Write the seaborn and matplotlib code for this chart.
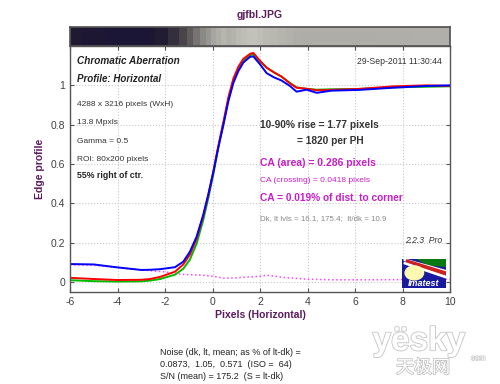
import numpy as np
import pandas as pd
import matplotlib
matplotlib.use('Agg')
import matplotlib.pyplot as plt
import matplotlib.patches as mpatches
import matplotlib.patheffects as pe
from matplotlib.colors import LinearSegmentedColormap
import seaborn as sns

# Edge profile data
pixels = [-6, -5, -4, -3, -2.63, -2.2, -1.58, -1.23, -0.95, -0.67,
          -0.39, -0.18, 0.04, 0.24, 0.46, 0.67, 0.88, 1.09, 1.3, 1.58,
          1.72, 2.0, 2.28, 2.6, 2.9, 3.26, 3.54, 3.96, 4.39, 5,
          6.2, 7.6, 9, 10]
red = [0.022, 0.016, 0.011, 0.012, 0.016, 0.027, 0.053, 0.09, 0.14, 0.22,
       0.335, 0.44, 0.565, 0.69, 0.815, 0.94, 1.035, 1.095, 1.135, 1.16,
       1.165, 1.125, 1.09, 1.065, 1.045, 1.01, 0.988, 0.983, 0.975, 0.977,
       0.982, 0.995, 1.0, 0.997]
green = [0.010, 0.005, 0.003, 0.004, 0.008, 0.016, 0.038, 0.068, 0.115, 0.195,
         0.315, 0.425, 0.55, 0.68, 0.805, 0.93, 1.025, 1.085, 1.128, 1.153,
         1.158, 1.12, 1.09, 1.065, 1.045, 1.013, 0.99, 0.982, 0.978, 0.98,
         0.982, 0.99, 0.993, 0.995]
blue = [0.092, 0.090, 0.075, 0.062, 0.063, 0.066, 0.076, 0.104, 0.155, 0.231,
        0.342, 0.444, 0.563, 0.682, 0.80, 0.92, 1.013, 1.073, 1.116, 1.145,
        1.147, 1.107, 1.062, 1.04, 1.025, 0.997, 0.968, 0.978, 0.962, 0.973,
        0.977, 0.988, 0.997, 1.0]

# CA difference (dotted magenta)
ca_x = [-6, -5, -4, -3, -2, -1.5, -1, -0.5, 0, 0.5, 1, 2, 2.3, 3, 4, 5, 6, 7, 8, 9, 10]
ca_y = [0.088, 0.086, 0.075, 0.062, 0.052, 0.042, 0.038, 0.036, 0.03, 0.02, 0.022, 0.03,
        0.035, 0.024, 0.015, 0.012, 0.012, 0.012, 0.013, 0.014, 0.014]

x_ticks = [-6, -4, -2, 0, 2, 4, 6, 8, 10]
y_ticks = [0, 0.2, 0.4, 0.6, 0.8, 1]
y_labels = ['0', '0.2', '0.4', '0.6', '0.8', '1']

info_lines = ['4288 x 3216 pixels (WxH)', '13.8 Mpxls', 'Gamma = 0.5', 'ROI: 80x200 pixels']
noise_lines = ['Noise (dk, lt, mean; as % of lt-dk) =',
               '0.0873,  1.05,  0.571  (ISO =  64)',
               'S/N (mean) = 175.2  (S = lt-dk)']

sns.set_theme(style='ticks')
plt.rcParams['font.family'] = ['Liberation Sans', 'DejaVu Sans']
plt.rcParams['axes.unicode_minus'] = False

purple = '#5a1a5e'
magenta = '#c81ec8'
dark = '#333333'

df = pd.DataFrame({'x': pixels, 'Red': red, 'Green': green, 'Blue': blue})
df_long = df.melt(id_vars='x', var_name='channel', value_name='y')

fig = plt.figure(figsize=(5, 3.84), dpi=100)
ax = fig.add_axes([0.14, 0.2396, 0.76, 0.6406])

sns.lineplot(x=ca_x, y=ca_y, ax=ax, color='#ff44ff', linestyle=':', linewidth=1.1)
sns.lineplot(data=df_long, x='x', y='y', hue='channel', ax=ax,
             palette={'Red': '#ff0000', 'Green': '#00bb00', 'Blue': '#0000ff'},
             hue_order=['Green', 'Red', 'Blue'], linewidth=1.4, legend=False)

ax.set_xlim(-6, 10)
ax.set_ylim(-0.05, 1.2)
ax.set_xticks(x_ticks)
ax.set_xticklabels([str(t) for t in x_ticks])
ax.set_yticks(y_ticks)
ax.set_yticklabels(y_labels)
ax.grid(True, linestyle=':', color='#c8c8c8', linewidth=0.8)
ax.tick_params(direction='in', top=True, right=True, length=3, labelsize=7.5,
               colors='#555555', labelcolor='#404040', width=0.8)
for s in ax.spines.values():
    s.set_color('#555555')
    s.set_linewidth(1)
ax.set_xlabel('Pixels (Horizontal)', color=purple, fontweight='bold', fontsize=7.5, labelpad=2)
ax.set_ylabel('Edge profile', color=purple, fontweight='bold', fontsize=7.5, labelpad=4)

# texts inside the plot
ax.text(0.018, 0.939, 'Chromatic Aberration', transform=ax.transAxes, fontsize=7.2,
        fontweight='bold', fontstyle='italic', color='#222222', va='center')
ax.text(0.018, 0.866, 'Profile: Horizontal', transform=ax.transAxes, fontsize=7,
        fontweight='bold', fontstyle='italic', color='#222222', va='center')
for i, line in enumerate(info_lines):
    ax.text(0.018, 0.764 - i * 0.0757, line, transform=ax.transAxes, fontsize=6,
            color=dark, va='center')
ax.text(0.018, 0.472, '55% right of ctr.', transform=ax.transAxes, fontsize=6.3,
        fontweight='bold', color='#222222', va='center')
ax.text(0.979, 0.939, '29-Sep-2011 11:30:44', transform=ax.transAxes, fontsize=6.2,
        color=dark, va='center', ha='right')
ax.text(0.5, 0.679, '10-90% rise = 1.77 pixels', transform=ax.transAxes, fontsize=7.3,
        fontweight='bold', color=dark, va='center')
ax.text(0.597, 0.614, '= 1820 per PH', transform=ax.transAxes, fontsize=7.3,
        fontweight='bold', color=dark, va='center')
ax.text(0.5, 0.524, 'CA (area) = 0.286 pixels', transform=ax.transAxes, fontsize=7.5,
        fontweight='bold', color=magenta, va='center')
ax.text(0.5, 0.455, 'CA (crossing) = 0.0418 pixels', transform=ax.transAxes, fontsize=6,
        color=magenta, va='center')
ax.text(0.5, 0.382, 'CA = 0.019% of dist. to corner', transform=ax.transAxes, fontsize=7.3,
        fontweight='bold', color=magenta, va='center')
ax.text(0.5, 0.297, 'Dk, lt lvls = 16.1, 175.4;  lt/dk = 10.9', transform=ax.transAxes,
        fontsize=5.7, color='#888888', va='center')
ax.text(0.979, 0.211, '2.2.3  Pro', transform=ax.transAxes, fontsize=6.2,
        fontstyle='italic', color=dark, va='center', ha='right')

# gradient bar showing the edge (columns coloured by the green profile)
bar = fig.add_axes([0.14, 0.88, 0.76, 0.0495])
vmax = 1.16
nodes = [(0, '#1b1636'), (0.01, '#1f1932'), (0.03, '#302b3a'), (0.07, '#4a4548'),
         (0.12, '#625e5f'), (0.2, '#787475'), (0.32, '#8c8a87'), (0.55, '#a6a5a0'),
         (0.8, '#b6b5ae'), (0.98, '#aeada7'), (1.16, '#c2c1ba')]
cmap = LinearSegmentedColormap.from_list('edge', [(v / vmax, c) for v, c in nodes])
px = np.array(pixels)
edges = np.concatenate([[px[0]], (px[:-1] + px[1:]) / 2, [px[-1]]])
bar.pcolormesh(edges, [0, 1], np.array(green).reshape(1, -1), cmap=cmap,
               vmin=0, vmax=vmax, shading='flat')
bar.set_xlim(-6, 10)
bar.set_ylim(0, 1)
bar.set_xticks([])
bar.set_yticks([])
for s in bar.spines.values():
    s.set_color('#555555')

# Imatest logo
logo = fig.add_axes([0.804, 0.25, 0.088, 0.0755])
logo.set_xlim(0, 1)
logo.set_ylim(0, 1)
logo.axis('off')
logo.add_patch(mpatches.Rectangle((0, 0), 1, 1, color='#1a1a9e'))
logo.add_patch(mpatches.Polygon([[0.35, 1], [1, 1], [1, 0.75], [0.6, 0.8]], color='#0a7a10'))
logo.add_patch(mpatches.Polygon([[0.05, 1], [1, 0.6], [1, 0.5], [0.05, 0.95]], color='white'))
logo.add_patch(mpatches.Polygon([[0.1, 0.97], [1, 0.55], [1, 0.42], [0.1, 0.9]], color='#cc2020'))
logo.add_patch(mpatches.Polygon([[0.05, 0.88], [1, 0.4], [1, 0.35], [0.05, 0.84]], color='white'))
logo.add_patch(mpatches.Ellipse((0.28, 0.52), 0.42, 0.48, color='#fff8b0'))
logo.text(0.5, 0.15, 'Imatest', color='white', fontsize=6.5, fontweight='bold',
          fontstyle='italic', ha='center', va='center')

# noise summary below the chart
for i, line in enumerate(noise_lines):
    fig.text(0.32, 0.081 - i * 0.031, line, fontsize=6.5, color='#222222', va='center')

# title
fig.text(0.52, 0.96, 'gjfbl.JPG', color=purple, fontsize=7.5, fontweight='bold',
         ha='center', va='center')

# watermark
fig.text(0.745, 0.11, 'yësky', fontsize=24, fontweight='bold', color='white',
         va='center', path_effects=[pe.withStroke(linewidth=1.2, foreground='#c4c4c4')])
fig.text(0.942, 0.066, 'com', fontsize=5.5, color='white', va='center',
         path_effects=[pe.withStroke(linewidth=0.8, foreground='#c4c4c4')])
fig.text(0.792, 0.042, '天极网', fontsize=13, color='white',
         family=['Noto Sans CJK SC', 'DejaVu Sans'], va='center',
         path_effects=[pe.withStroke(linewidth=1.2, foreground='#c4c4c4')])

fig.savefig('out.png', dpi=100)
